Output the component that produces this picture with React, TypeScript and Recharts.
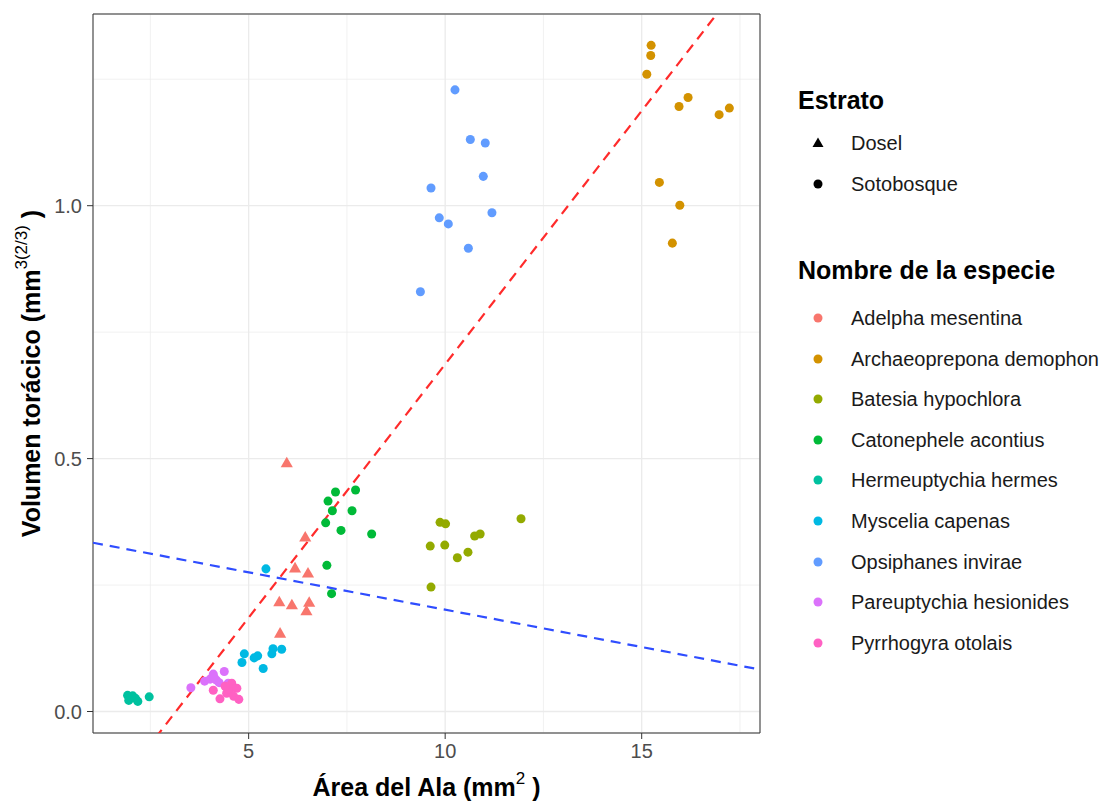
import {
  ScatterChart,
  Scatter,
  XAxis,
  YAxis,
  ZAxis,
  CartesianGrid,
  ReferenceLine,
  ReferenceArea,
  Label,
} from 'recharts';

const FONT = '"Liberation Sans", Arial, Helvetica, sans-serif';

// [área del ala, volumen torácico] por especie
const adelphaMesentina = [
  [5.97, 0.49], [6.44, 0.343], [6.18, 0.282], [6.51, 0.272], [5.78, 0.215],
  [6.1, 0.209], [6.54, 0.214], [6.47, 0.197], [5.8, 0.153],
];
const archaeopreponaDemophon = [
  [15.24, 1.317], [15.23, 1.297], [15.13, 1.26], [16.18, 1.214], [15.95, 1.196],
  [17.23, 1.193], [16.97, 1.18], [15.45, 1.046], [15.97, 1.001], [15.78, 0.926],
];
const batesiaHypochlora = [
  [11.93, 0.381], [9.87, 0.374], [10.01, 0.371], [10.89, 0.351], [10.75, 0.347],
  [9.62, 0.327], [9.99, 0.329], [10.58, 0.315], [10.31, 0.304], [9.64, 0.246],
];
const catonepheleAcontius = [
  [7.72, 0.438], [7.21, 0.434], [7.02, 0.416], [7.13, 0.397], [7.63, 0.397],
  [6.96, 0.373], [7.35, 0.358], [8.13, 0.351], [6.99, 0.289], [7.11, 0.233],
];
const hermeuptychiaHermes = [
  [1.92, 0.032], [2.05, 0.031], [1.95, 0.022], [2.12, 0.026], [2.18, 0.02], [2.47, 0.029],
];
const mysceliaCapenas = [
  [5.44, 0.282], [5.84, 0.123], [5.62, 0.124], [5.59, 0.114], [5.23, 0.11],
  [5.14, 0.106], [4.89, 0.114], [4.83, 0.097], [5.37, 0.085],
];
const opsiphanesInvirae = [
  [10.25, 1.229], [10.64, 1.131], [11.02, 1.124], [10.97, 1.058], [9.64, 1.035],
  [11.19, 0.986], [9.85, 0.976], [10.08, 0.964], [10.59, 0.916], [9.37, 0.83],
];
const pareuptychiaHesionides = [
  [3.53, 0.047], [3.88, 0.06], [4.02, 0.064], [4.1, 0.074], [4.18, 0.062],
  [4.38, 0.079], [4.25, 0.057], [4.12, 0.068], [4.48, 0.056],
];
const pyrrhogyraOtolais = [
  [4.1, 0.042], [4.27, 0.025], [4.44, 0.036], [4.53, 0.044], [4.57, 0.056],
  [4.7, 0.046], [4.62, 0.03], [4.75, 0.024], [4.4, 0.05],
];

const estratos = ['Dosel', 'Sotobosque'];

const species = [
  { name: 'Adelpha mesentina', color: '#F8766D', estrato: 'Dosel', points: adelphaMesentina },
  { name: 'Archaeoprepona demophon', color: '#D39200', estrato: 'Sotobosque', points: archaeopreponaDemophon },
  { name: 'Batesia hypochlora', color: '#93AA00', estrato: 'Sotobosque', points: batesiaHypochlora },
  { name: 'Catonephele acontius', color: '#00BA38', estrato: 'Sotobosque', points: catonepheleAcontius },
  { name: 'Hermeuptychia hermes', color: '#00C19F', estrato: 'Sotobosque', points: hermeuptychiaHermes },
  { name: 'Myscelia capenas', color: '#00B9E3', estrato: 'Sotobosque', points: mysceliaCapenas },
  { name: 'Opsiphanes invirae', color: '#619CFF', estrato: 'Sotobosque', points: opsiphanesInvirae },
  { name: 'Pareuptychia hesionides', color: '#DB72FB', estrato: 'Sotobosque', points: pareuptychiaHesionides },
  { name: 'Pyrrhogyra otolais', color: '#FF61C3', estrato: 'Sotobosque', points: pyrrhogyraOtolais },
];

// rectas ajustadas [intercepto, pendiente]
const dashedLines = [
  { color: '#ff2b2b', coef: [-0.3155, 0.1002] },
  { color: '#2f4dff', coef: [0.349, -0.01477] },
];

const xDomain = [1.04, 18.01];
const yDomain = [-0.0425, 1.379];
const xTicks = [5, 10, 15];
const yTicks = [0, 0.5, 1];
const xMinor = [2.5, 7.5, 12.5, 17.5];
const yMinor = [0.25, 0.75, 1.25];

const XTitle = () => (
  <text x={426.5} y={796} textAnchor="middle" fontFamily={FONT} fontSize={25} fontWeight="bold" fill="#000">
    Área del Ala (mm
    <tspan fontSize={17} fontWeight="normal" dy={-12}>2</tspan>
    <tspan dy={12}> )</tspan>
  </text>
);

const YTitle = () => (
  <text
    transform="translate(40,373.5) rotate(-90)"
    textAnchor="middle"
    fontFamily={FONT}
    fontSize={25}
    fontWeight="bold"
    fill="#000"
  >
    Volumen torácico (mm
    <tspan fontSize={17} fontWeight="normal" dy={-13}>3(2/3)</tspan>
    <tspan dy={13}> )</tspan>
  </text>
);

const legendText = { fontFamily: FONT, fontSize: 20, color: '#1a1a1a' } as const;
const legendTitle = { fontFamily: FONT, fontSize: 25, fontWeight: 'bold', color: '#000' } as const;

function LegendRow({ top, shape, color, label }: { top: number; shape: string; color: string; label: string }) {
  return (
    <div style={{ position: 'absolute', left: 806, top, transform: 'translateY(-50%)', display: 'flex', alignItems: 'center' }}>
      <svg width={24} height={24}>
        {shape === 'triangle' ? (
          <polygon points="12,6.5 17.5,16 6.5,16" fill={color} />
        ) : (
          <circle cx={12} cy={12} r={4.5} fill={color} />
        )}
      </svg>
      <span style={{ ...legendText, marginLeft: 21, whiteSpace: 'nowrap', lineHeight: 1 }}>{label}</span>
    </div>
  );
}

export default function App() {
  return (
    <div style={{ position: 'absolute', left: 0, top: 0, width: 1107, height: 802, background: '#fff' }}>
      <ScatterChart width={1107} height={802} margin={{ top: 14, right: 347, bottom: 0, left: 0 }}>
        <CartesianGrid verticalValues={xMinor} horizontalValues={yMinor} stroke="#ebebeb" strokeWidth={0.7} />
        <CartesianGrid stroke="#ebebeb" strokeWidth={1.3} />
        <XAxis
          type="number"
          dataKey="x"
          domain={xDomain}
          ticks={xTicks}
          allowDataOverflow
          height={69}
          axisLine={false}
          tickSize={6}
          tickMargin={5}
          tickLine={{ stroke: '#333' }}
          tick={{ fill: '#4d4d4d', fontSize: 20, fontFamily: FONT }}
        >
          <Label content={XTitle} />
        </XAxis>
        <YAxis
          type="number"
          dataKey="y"
          domain={yDomain}
          ticks={yTicks}
          allowDataOverflow
          width={93}
          axisLine={false}
          tickSize={6}
          tickMargin={5}
          tickLine={{ stroke: '#333' }}
          tickFormatter={(v: number) => v.toFixed(1)}
          tick={{ fill: '#4d4d4d', fontSize: 20, fontFamily: FONT }}
        >
          <Label content={YTitle} />
        </YAxis>
        <ZAxis range={[72, 72]} />
        {species.map((s) => (
          <Scatter
            key={s.name}
            name={s.name}
            data={s.points.map(([x, y]) => ({ x, y }))}
            fill={s.color}
            shape={s.estrato === 'Dosel' ? 'triangle' : 'circle'}
            isAnimationActive={false}
          />
        ))}
        {dashedLines.map((l) => (
          <ReferenceLine
            key={l.color}
            segment={[
              { x: xDomain[0], y: l.coef[0] + l.coef[1] * xDomain[0] },
              { x: xDomain[1], y: l.coef[0] + l.coef[1] * xDomain[1] },
            ]}
            ifOverflow="hidden"
            stroke={l.color}
            strokeWidth={2.2}
            strokeDasharray="10 7"
          />
        ))}
        <ReferenceArea
          x1={xDomain[0]}
          x2={xDomain[1]}
          y1={yDomain[0]}
          y2={yDomain[1]}
          fill="none"
          stroke="#333"
          strokeWidth={1}
          ifOverflow="visible"
        />
      </ScatterChart>

      <div style={{ ...legendTitle, position: 'absolute', left: 798, top: 100, transform: 'translateY(-50%)', lineHeight: 1 }}>
        Estrato
      </div>
      {estratos.map((e, i) => (
        <LegendRow key={e} top={143 + i * 41} shape={e === 'Dosel' ? 'triangle' : 'circle'} color="#000" label={e} />
      ))}
      <div style={{ ...legendTitle, position: 'absolute', left: 798, top: 270, transform: 'translateY(-50%)', lineHeight: 1 }}>
        Nombre de la especie
      </div>
      {species.map((s, i) => (
        <LegendRow key={s.name} top={318 + i * 40.6} shape="circle" color={s.color} label={s.name} />
      ))}
    </div>
  );
}
